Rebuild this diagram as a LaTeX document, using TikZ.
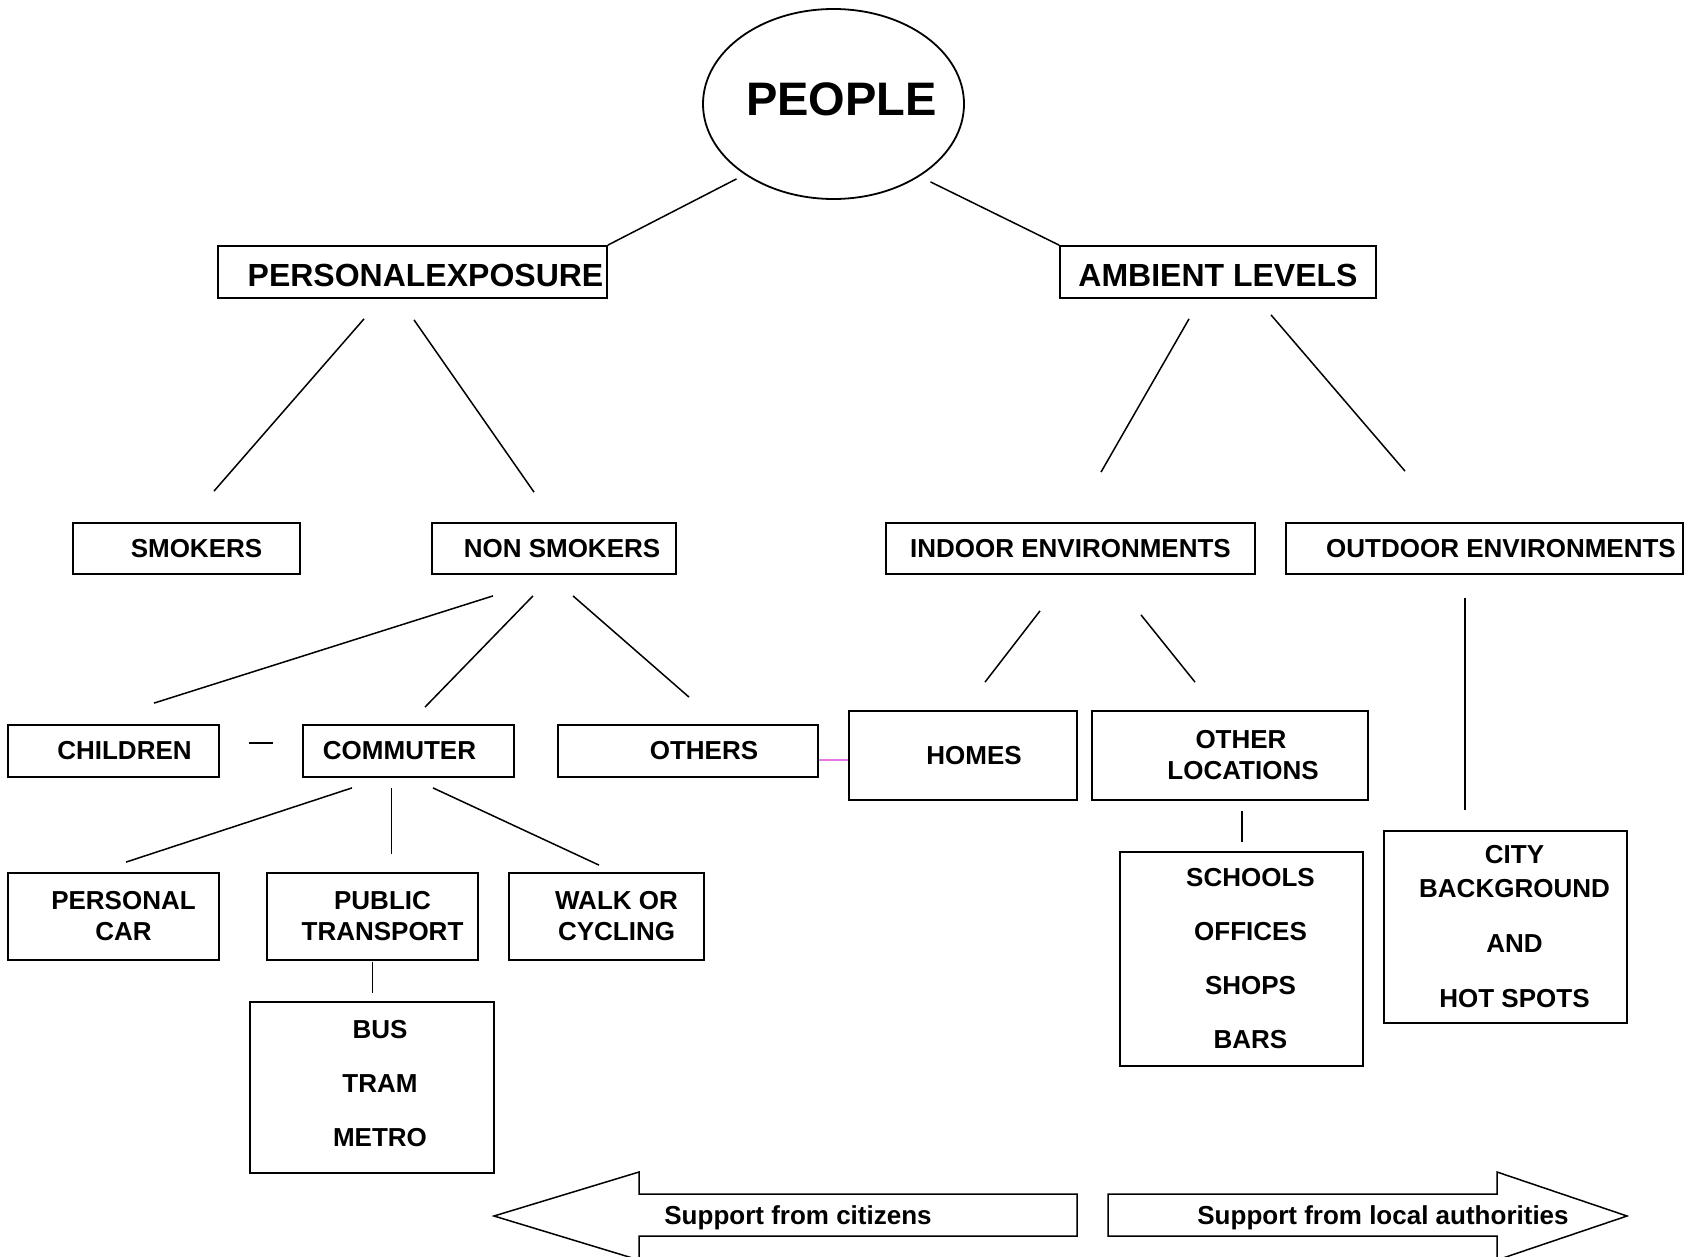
\documentclass[tikz,border=0pt]{standalone}
\usepackage{fontspec}
\setmainfont{Liberation Sans}
\usetikzlibrary{shapes.geometric}
\definecolor{linkpink}{RGB}{232,120,232}
\begin{document}
\begin{tikzpicture}[
    x=1pt, y=1pt,
    every node/.style={font=\bfseries\fontsize{26}{31}\selectfont, align=center, inner sep=0pt},
    box/.style 2 args={draw, line width=1.8pt, minimum width=#1, minimum height=#2},
    head/.style={font=\bfseries\fontsize{32}{38}\selectfont, text height=28.5pt, text depth=0pt},
    oval/.style={ellipse, draw, line width=1.8pt, minimum width=261pt, minimum height=190pt,
      font=\bfseries\fontsize{47}{56}\selectfont, text depth=9pt},
    link/.style={line width=1.5pt},
    shaft/.style={line width=1.5pt, line join=miter}
  ]
  \useasboundingbox (0,0) rectangle (1699,-1257);
  \node[oval] (people) at (833.5,-104) {\makebox[0pt]{\hspace*{16pt}PEOPLE}};
  \node[box={389pt}{52pt}, head] (personal) at (412.5,-272) {\hspace*{26pt}PERSONALEXPOSURE};
  \node[box={316pt}{52pt}, head] (ambient) at (1218,-272) {AMBIENT LEVELS};
  \node[box={227pt}{51pt}] (smokers) at (186.5,-548.5) {\hspace*{20pt}SMOKERS};
  \node[box={244pt}{51pt}] (nonsmokers) at (554,-548.5) {\hspace*{16pt}NON SMOKERS};
  \node[box={369pt}{51pt}] (indoor) at (1070.5,-548.5) {INDOOR ENVIRONMENTS};
  \node[box={397pt}{51pt}] (outdoor) at (1484.5,-548.5) {\hspace*{33pt}OUTDOOR ENVIRONMENTS};
  \node[box={211pt}{52pt}] (children) at (113.5,-751) {\hspace*{22pt}CHILDREN};
  \node[box={211pt}{52pt}] (commuter) at (408.5,-751) {COMMUTER\hspace*{18pt}};
  \node[box={260pt}{52pt}] (others) at (688,-751) {\hspace*{32pt}OTHERS};
  \node[box={228pt}{89pt}] (homes) at (963,-755.5) {\hspace*{22pt}HOMES};
  \node[box={276pt}{89pt}] (otherloc) at (1230,-755.5) {\hspace*{22pt}OTHER\\\hspace*{26pt}LOCATIONS};
  \node[box={211pt}{87pt}] (car) at (113.5,-916.5) {\hspace*{20pt}PERSONAL\\\hspace*{20pt}CAR};
  \node[box={211pt}{87pt}] (public) at (372.5,-916.5) {\hspace*{20pt}PUBLIC\\\hspace*{20pt}TRANSPORT};
  \node[box={195pt}{87pt}] (walk) at (606.5,-916.5) {\hspace*{20pt}WALK OR\\\hspace*{20pt}CYCLING};
  \node[box={244pt}{171pt}] (transit) at (372,-1087.5)
    {\hspace*{16pt}BUS\\[23pt]\hspace*{16pt}TRAM\\[23pt]\hspace*{16pt}METRO\rule[-9pt]{0pt}{9pt}};
  \node[box={243pt}{214pt}] (venues) at (1241.5,-959)
    {\hspace*{18pt}SCHOOLS\\[23pt]\hspace*{18pt}OFFICES\\[23pt]\hspace*{18pt}SHOPS\\[23pt]\hspace*{18pt}BARS};
  \node[box={243pt}{192pt}] (city) at (1505.5,-927)
    {\hspace*{18pt}CITY\\[3pt]\hspace*{18pt}BACKGROUND\\[24pt]\hspace*{18pt}AND\\[24pt]\hspace*{18pt}HOT SPOTS};
  \node (citizens) at (798,-1218) {Support from citizens};
  \node (authorities) at (1383,-1218) {Support from local authorities};

  \draw[link] ([shift={(-97,21)}]people.south) -- (personal.north east);
  \draw[link] ([shift={(97,18)}]people.south) -- (ambient.north west);
  \draw[link] ([shift={(-48.5,-20)}]personal.south) -- ([shift={(27.5,31)}]smokers.north);
  \draw[link] ([shift={(1.5,-21)}]personal.south) -- ([shift={(-20,30)}]nonsmokers.north);
  \draw[link] ([shift={(-29,-20)}]ambient.south) -- ([shift={(30.5,50)}]indoor.north);
  \draw[link] ([shift={(53,-16)}]ambient.south) -- ([shift={(-79.5,51)}]outdoor.north);
  \draw[link] ([shift={(-61,-21)}]nonsmokers.south) -- ([shift={(40.5,21)}]children.north);
  \draw[link] ([shift={(-21,-21)}]nonsmokers.south) -- ([shift={(16.5,17)}]commuter.north);
  \draw[link] ([shift={(19,-21)}]nonsmokers.south) -- ([shift={(1,27)}]others.north);
  \draw[link] ([shift={(29,8)}]children.east) -- ([shift={(-29,8)}]commuter.west);
  \draw[linkpink, line width=1.5pt] ([shift={(0,-9)}]others.east) -- ([shift={(0,-4.5)}]homes.west);
  \draw[link] ([shift={(-30.5,-36)}]indoor.south) -- ([shift={(22,28)}]homes.north);
  \draw[link] ([shift={(70.5,-40)}]indoor.south) -- ([shift={(-35,28)}]otherloc.north);
  \draw[link] ([shift={(-19.5,-23)}]outdoor.south) -- ([shift={(-40.5,20)}]city.north);
  \draw[link] ([shift={(12,-10)}]otherloc.south) -- ([shift={(0.5,9)}]venues.north);
  \draw[link] ([shift={(-56.5,-10)}]commuter.south) -- ([shift={(12.5,10)}]car.north);
  \draw[link] ([shift={(-17,-10)}]commuter.south) -- ([shift={(19,18)}]public.north);
  \draw[link] ([shift={(24.5,-10)}]commuter.south) -- ([shift={(-7.5,7)}]walk.north);
  \draw[link] ([shift={(0,-1)}]public.south) -- ([shift={(0.5,8)}]transit.north);

  \draw[shaft] (639,-1260) -- (494,-1216) -- (639,-1172) -- (639,-1194) -- (1077,-1194)
    -- (1077,-1236) -- (639,-1236) -- cycle;
  \draw[shaft] (1108,-1194) -- (1497,-1194) -- (1497,-1172) -- (1627,-1216) -- (1497,-1260)
    -- (1497,-1236) -- (1108,-1236) -- cycle;
\end{tikzpicture}
\end{document}
